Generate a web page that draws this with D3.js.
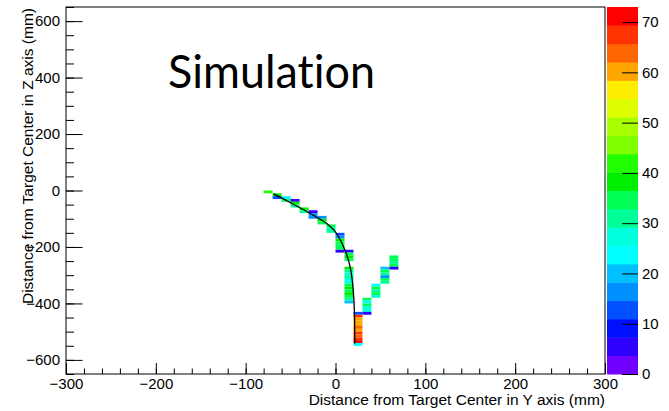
<!doctype html>
<html lang="en">
  <head>
    <meta charset="utf-8"/>
    <title>Simulation</title>
    <script src="https://d3js.org/d3.v7.min.js"></script>
    <style>
      body { margin: 0; background: #fff; }
      svg { display: block; }
      text { font-family: "Liberation Sans", Arial, Helvetica, sans-serif; }
    </style>
  </head>
  <body>
    <div id="chart"></div>

    <script>
      //Histogram columns: low edge in Y (mm), upper edge in Z of first bin, counts going down in 10 mm steps
      var colY = [-80, -70, -60, -50, -40, -30, -20, -10, 0, 10, 20, 30, 40, 50, 60];
      var colTop = [0, -10, -20, -30, -60, -70, -90, -120, -150, -210, -430, -380, -330, -270, -230];
      var colCounts = [
        [41],
        [38, 13],
        [24, 33],
        [6, 38, 32],
        [38, 31],
        [6, 16, 17],
        [16, 38, 33],
        [36, 31, 30],
        [11, 15, 37, 33, 36, 35, 6],
        [6, 36, 37, 33, 0, 0, 38, 30, 28, 31, 29, 27, 36, 37, 35, 38, 33, 32, 20],
        [12, 68, 60, 62, 60, 65, 61, 66, 63, 68, 72, 24],
        [36, 25, 33, 28, 27, 5],
        [24, 33, 31, 33, 28],
        [20, 35, 31, 16, 34, 30],
        [34, 36, 31, 33, 5]
      ];

      //Track curve
      var curveY = [-69, -50, -28, -6, 2, 11, 17, 20, 21.4, 21.4];
      var curveZ = [-12, -43, -81, -122, -152, -211, -270, -353, -436, -542];

      //Palette bands, bottom to top
      var bandColors = ["#7000ff", "#3000ff", "#0010ff", "#0050ff", "#0090ff",
                        "#00c0ff", "#00ffff", "#00ffdd", "#00ff99", "#00ff55",
                        "#00ee00", "#22ff00", "#80ff00", "#a8ff00", "#ddff00",
                        "#ffee00", "#ffa500", "#ff6600", "#ff3300", "#ff0000"];
      var zMax = 73;
      var paletteTicks = [0, 10, 20, 30, 40, 50, 60, 70];

      var xTicks = [-300, -200, -100, 0, 100, 200, 300];
      var yTicks = [-600, -400, -200, 0, 200, 400, 600];

      var w = 669;
      var h = 411;
      var frameLeft = 66, frameRight = 605, frameTop = 7, frameBottom = 374;
      var palLeft = 607, palRight = 638;

      var xScale = d3.scaleLinear().domain([-300, 300]).range([frameLeft, frameRight]);
      var yScale = d3.scaleLinear().domain([-650, 650]).range([frameBottom, frameTop]);
      var zScale = d3.scaleLinear().domain([0, zMax]).range([frameBottom, frameTop]);
      var colorScale = d3.scaleQuantize().domain([0, zMax]).range(bandColors);

      var svg = d3.select("#chart")
        .append("svg")
        .attr("width", w)
        .attr("height", h);

      //Flatten columns into cells
      var cells = [];
      colY.forEach(function(y, i) {
        colCounts[i].forEach(function(n, j) {
          if (n > 0) {
            cells.push({ y: y, z: colTop[i] - j * 10, n: n });
          }
        });
      });

      //Create cells
      svg.selectAll("rect.cell")
        .data(cells)
        .enter()
        .append("rect")
        .attr("class", "cell")
        .attr("x", function(d) { return xScale(d.y); })
        .attr("y", function(d) { return yScale(d.z); })
        .attr("width", function(d) { return xScale(d.y + 10) - xScale(d.y); })
        .attr("height", function(d) { return yScale(d.z - 10) - yScale(d.z); })
        .attr("fill", function(d) { return colorScale(d.n); });

      //Curve
      var line = d3.line()
        .x(function(d) { return xScale(d[0]); })
        .y(function(d) { return yScale(d[1]); })
        .curve(d3.curveBasis);

      svg.append("path")
        .datum(d3.zip(curveY, curveZ))
        .attr("d", line)
        .attr("fill", "none")
        .attr("stroke", "#000")
        .attr("stroke-width", 1.3);

      //Frame
      svg.append("rect")
        .attr("x", frameLeft)
        .attr("y", frameTop)
        .attr("width", frameRight - frameLeft)
        .attr("height", frameBottom - frameTop)
        .attr("fill", "none")
        .attr("stroke", "#000")
        .attr("stroke-width", 1);

      //X axis, ticks inside
      var xAxis = d3.axisBottom(xScale)
        .tickValues(xTicks)
        .tickSizeInner(-11)
        .tickSizeOuter(0)
        .tickPadding(4);
      var gx = svg.append("g")
        .attr("transform", "translate(0," + frameBottom + ")")
        .call(xAxis);
      gx.select(".domain").remove();
      gx.selectAll("text").attr("font-size", "15px").attr("fill", "#000");

      svg.append("g")
        .attr("transform", "translate(0," + frameBottom + ")")
        .call(d3.axisBottom(xScale).tickValues(d3.range(-280, 300, 20)).tickSize(-5.5).tickFormat(""))
        .select(".domain").remove();

      //Y axis, ticks inside
      var yAxis = d3.axisLeft(yScale)
        .tickValues(yTicks)
        .tickSizeInner(-16.5)
        .tickSizeOuter(0)
        .tickPadding(6);
      var gy = svg.append("g")
        .attr("transform", "translate(" + frameLeft + ",0)")
        .call(yAxis);
      gy.select(".domain").remove();
      gy.selectAll("text").attr("font-size", "15px").attr("fill", "#000");

      svg.append("g")
        .attr("transform", "translate(" + frameLeft + ",0)")
        .call(d3.axisLeft(yScale).tickValues(d3.range(-650, 651, 50)).tickSize(-8).tickFormat(""))
        .select(".domain").remove();

      //Palette
      svg.selectAll("rect.band")
        .data(bandColors)
        .enter()
        .append("rect")
        .attr("class", "band")
        .attr("x", palLeft)
        .attr("width", palRight - palLeft)
        .attr("y", function(d, i) { return zScale((i + 1) * zMax / bandColors.length); })
        .attr("height", function(d, i) {
          return zScale(i * zMax / bandColors.length) - zScale((i + 1) * zMax / bandColors.length) + 0.5;
        })
        .attr("fill", function(d) { return d; });

      var zAxis = d3.axisRight(zScale)
        .tickValues(paletteTicks)
        .tickSizeInner(-16)
        .tickSizeOuter(0)
        .tickPadding(4);
      var gz = svg.append("g")
        .attr("transform", "translate(" + palRight + ",0)")
        .call(zAxis);
      gz.select(".domain").remove();
      gz.selectAll("text").attr("font-size", "15px").attr("fill", "#000");

      //Axis titles
      svg.append("text")
        .attr("x", frameRight)
        .attr("y", 405)
        .attr("text-anchor", "end")
        .attr("font-size", "15.5px")
        .text("Distance from Target Center in Y axis (mm)");

      svg.append("text")
        .attr("transform", "translate(33," + (frameTop + 1) + ") rotate(-90)")
        .attr("text-anchor", "end")
        .attr("font-size", "15.5px")
        .text("Distance from Target Center in Z axis (mm)");

      //Label
      svg.append("text")
        .attr("x", 168)
        .attr("y", 88)
        .style("font-family", "Lato, 'Open Sans', sans-serif")
        .style("font-variant-ligatures", "none")
        .attr("font-size", "47px")
        .attr("textLength", 207)
        .attr("lengthAdjust", "spacingAndGlyphs")
        .text("Simulation");
    </script>
  </body>
</html>
